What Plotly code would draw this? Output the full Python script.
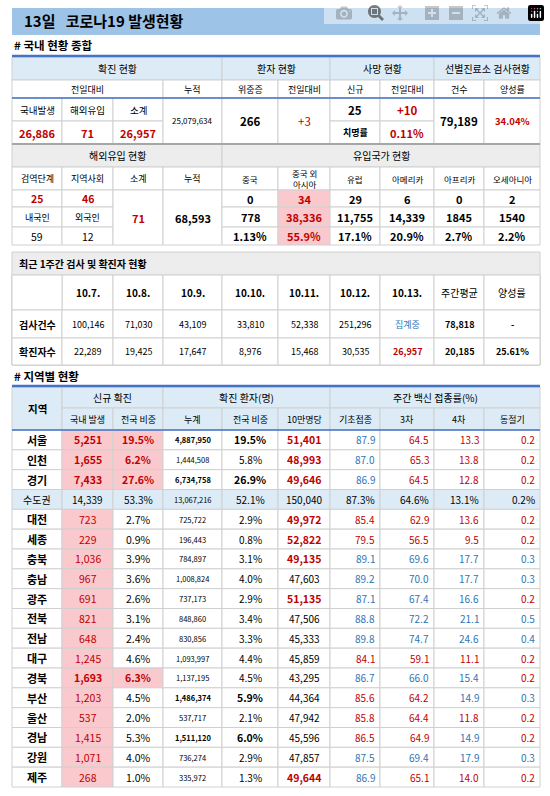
import plotly.graph_objects as go

W, H = 550, 796
FONT = "Noto Sans CJK KR"
RED = "#C00000"; BLUE = "#2E75B6"; PINK = "#F9C9CE"; LB = "#DDEBF7"; GR = "#EDEDED"

# ---------- data ----------
t1_top = ["확진 현황", "환자 현황", "사망 현황", "선별진료소 검사현황"]
t1_sub = ["전일대비", "누적", "위중증", "전일대비", "신규", "전일대비", "건수", "양성률"]
t1_labels = ["국내발생", "해외유입", "소계"]
t1_new = ["26,886", "71", "26,957"]
t1_cum = "25,079,634"
t1_severe = ["266", "+3"]
t1_death = ["25", "+10"]
t1_fatal = ["치명률", "0.11%"]
t1_test = ["79,189", "34.04%"]

t2_top = ["해외유입 현황", "유입국가 현황"]
t2_sub = ["검역단계", "지역사회", "소계", "누적", "중국", "중국 외<br>아시아", "유럽", "아메리카", "아프리카", "오세아니아"]
t2_stage = ["25", "46"]
t2_nat_lbl = ["내국인", "외국인"]
t2_nat = ["59", "12"]
t2_sub_total = "71"
t2_cum = "68,593"
t2_new = ["0", "34", "29", "6", "0", "2"]
t2_cnt = ["778", "38,336", "11,755", "14,339", "1845", "1540"]
t2_pct = ["1.13%", "55.9%", "17.1%", "20.9%", "2.7%", "2.2%"]

t3_title = "최근 1주간 검사 및 확진자 현황"
t3_dates = ["10.7.", "10.8.", "10.9.", "10.10.", "10.11.", "10.12.", "10.13.", "주간평균", "양성률"]
t3_tests = ["100,146", "71,030", "43,109", "33,810", "52,338", "251,296", "집계중", "78,818", "-"]
t3_cases = ["22,289", "19,425", "17,647", "8,976", "15,468", "30,535", "26,957", "20,185", "25.61%"]

regions = ["서울", "인천", "경기", "수도권", "대전", "세종", "충북", "충남", "광주", "전북", "전남",
           "대구", "경북", "부산", "울산", "경남", "강원", "제주"]
new_local = ["5,251", "1,655", "7,433", "14,339", "723", "229", "1,036", "967", "691", "821", "648",
             "1,245", "1,693", "1,203", "537", "1,415", "1,071", "268"]
new_share = ["19.5%", "6.2%", "27.6%", "53.3%", "2.7%", "0.9%", "3.9%", "3.6%", "2.6%", "3.1%", "2.4%",
             "4.6%", "6.3%", "4.5%", "2.0%", "5.3%", "4.0%", "1.0%"]
cum_total = ["4,887,950", "1,444,508", "6,734,758", "13,067,216", "725,722", "196,443", "784,897", "1,008,824",
             "737,173", "848,860", "830,856", "1,093,997", "1,137,195", "1,486,374", "537,717", "1,511,120",
             "736,274", "335,972"]
cum_share = ["19.5%", "5.8%", "26.9%", "52.1%", "2.9%", "0.8%", "3.1%", "4.0%", "2.9%", "3.4%", "3.3%",
             "4.4%", "4.5%", "5.9%", "2.1%", "6.0%", "2.9%", "1.3%"]
per100k = ["51,401", "48,993", "49,646", "150,040", "49,972", "52,822", "49,135", "47,603", "51,135", "47,506",
           "45,333", "45,859", "43,295", "44,364", "47,942", "45,596", "47,857", "49,644"]
vac_base = [87.9, 87.0, 86.9, 87.3, 85.4, 79.5, 89.1, 89.2, 87.1, 88.8, 89.8, 84.1, 86.7, 85.6, 85.8, 86.5, 87.5, 86.9]
vac_3 = [64.5, 65.3, 64.5, 64.6, 62.9, 56.5, 69.6, 70.0, 67.4, 72.2, 74.7, 59.1, 66.0, 64.2, 64.4, 64.9, 69.4, 65.1]
vac_4 = [13.3, 13.8, 12.8, 13.1, 13.6, 9.5, 17.7, 17.7, 16.6, 21.1, 24.6, 11.1, 15.4, 14.9, 11.8, 14.9, 17.9, 14.0]
vac_w = [0.2, 0.2, 0.2, 0.2, 0.2, 0.2, 0.3, 0.3, 0.2, 0.5, 0.4, 0.2, 0.2, 0.3, 0.2, 0.2, 0.3, 0.2]

# ---------- helpers ----------
shapes, anns = [], []
def px(x): return x / W
def py(y): return 1 - y / H

def rect(x0, y0, x1, y1, fill="white", line="#D0D0D0", lw=1):
    shapes.append(dict(type="rect", xref="paper", yref="paper", x0=px(x0), x1=px(x1), y0=py(y1), y1=py(y0),
                       fillcolor=fill, line=dict(color=line, width=lw), layer="below"))

def hline(x0, x1, y, color="#4472C4", lw=2.5):
    shapes.append(dict(type="line", xref="paper", yref="paper", x0=px(x0), x1=px(x1), y0=py(y), y1=py(y),
                       line=dict(color=color, width=lw)))

def text(x, y, t, size=10, color="black", bold=False, anchor="center"):
    if bold: t = "<b>" + t + "</b>"
    anns.append(dict(xref="paper", yref="paper", x=px(x), y=py(y), text=t, showarrow=False,
                     xanchor=anchor, yanchor="middle", font=dict(family=FONT, size=size, color=color)))

def cell(x0, y0, x1, y1, t="", fill="white", color="black", bold=False, size=10, align="center"):
    rect(x0, y0, x1, y1, fill)
    if t != "":
        if align == "center": text((x0 + x1) / 2, (y0 + y1) / 2, t, size, color, bold)
        elif align == "right": text(x1 - 3, (y0 + y1) / 2, t, size, color, bold, "right")
        else: text(x0 + 5, (y0 + y1) / 2, t, size, color, bold, "left")

X = [12, 62, 113, 163, 222, 278, 330, 380, 434, 484, 540]

# title
shapes.append(dict(type="rect", xref="paper", yref="paper", x0=px(12), x1=px(540), y0=py(35), y1=py(8),
                   fillcolor="#9DC3E6", line=dict(width=0), layer="below"))
text(22, 21, "13일   코로나19 발생현황", 15, "black", True, "left")
text(12, 45, "# 국내 현황 종합", 11.5, "black", True, "left")

# ---- table 1 ----
for (a, b), t in zip([(0, 4), (4, 6), (6, 8), (8, 10)], t1_top):
    cell(X[a], 57, X[b], 80, t, LB, size=10)
spans = [(0, 3), (3, 4), (4, 5), (5, 6), (6, 7), (7, 8), (8, 9), (9, 10)]
for (a, b), t in zip(spans, t1_sub):
    cell(X[a], 80, X[b], 98, t, size=9)
for i in range(3):
    cell(X[i], 98, X[i + 1], 121, t1_labels[i], size=9.5)
    cell(X[i], 121, X[i + 1], 144, t1_new[i], color=RED, bold=True, size=11)
cell(X[3], 98, X[4], 144, t1_cum, size=8)
cell(X[4], 98, X[5], 144, t1_severe[0], bold=True, size=11.5)
cell(X[5], 98, X[6], 144, t1_severe[1], color=RED, size=11.5)
cell(X[6], 98, X[7], 121, t1_death[0], bold=True, size=11.5)
cell(X[7], 98, X[8], 121, t1_death[1], color=RED, bold=True, size=11.5)
cell(X[6], 121, X[7], 144, t1_fatal[0], bold=True, size=9)
cell(X[7], 121, X[8], 144, t1_fatal[1], color=RED, bold=True, size=11)
cell(X[8], 98, X[9], 144, t1_test[0], bold=True, size=11.5)
cell(X[9], 98, X[10], 144, t1_test[1], color=RED, bold=True, size=9.5)
hline(12, 540, 56); hline(12, 540, 98, lw=1.5)

# ---- table 2 ----
cell(X[0], 144, X[4], 167, t2_top[0], GR)
cell(X[4], 144, X[10], 167, t2_top[1], GR)
for i, t in enumerate(t2_sub):
    cell(X[i], 167, X[i + 1], 190, t, size=8.5 if i >= 4 else 9)
cell(X[0], 190, X[1], 207, t2_stage[0], color=RED, bold=True, size=10.5)
cell(X[1], 190, X[2], 207, t2_stage[1], color=RED, bold=True, size=10.5)
cell(X[0], 207, X[1], 227, t2_nat_lbl[0], size=9)
cell(X[1], 207, X[2], 227, t2_nat_lbl[1], size=9)
cell(X[0], 227, X[1], 245, t2_nat[0], size=10.5)
cell(X[1], 227, X[2], 245, t2_nat[1], size=10.5)
cell(X[2], 190, X[3], 245, t2_sub_total, color=RED, bold=True, size=11)
cell(X[3], 190, X[4], 245, t2_cum, bold=True, size=11)
for j in range(6):
    f = PINK if j == 1 else "white"
    c = RED if j == 1 else "black"
    cell(X[4 + j], 190, X[5 + j], 207, t2_new[j], f, c, True, 11)
    cell(X[4 + j], 207, X[5 + j], 227, t2_cnt[j], f, c, True, 11)
    cell(X[4 + j], 227, X[5 + j], 245, t2_pct[j], f, c, True, 11)
hline(12, 540, 144, "#A6A6A6", 2)

# ---- table 3 ----
rect(12, 252, 540, 365, GR)
text(17, 263, t3_title, 10, "black", True, "left")
rect(12, 275, 540, 365, "white")
for i, t in enumerate(t3_dates):
    cell(X[i + 1], 275, X[i + 2], 310, t, bold=(i < 7), size=10)
cell(X[0], 275, X[1], 310, "")
cell(X[0], 310, X[1], 338, "검사건수", bold=True, size=10)
cell(X[0], 338, X[1], 365, "확진자수", bold=True, size=10)
for i in range(9):
    c1 = BLUE if i == 6 else "black"
    c2 = RED if i == 6 else "black"
    cell(X[i + 1], 310, X[i + 2], 338, t3_tests[i], color=c1, bold=(i >= 7), size=9)
    cell(X[i + 1], 338, X[i + 2], 365, t3_cases[i], color=c2, bold=(i >= 6), size=9)
text(12, 376, "# 지역별 현황", 11.5, "black", True, "left")

# ---- table 4 ----
cell(X[0], 387, X[1], 430, "지역", LB, bold=True, size=10.5)
cell(X[1], 387, X[3], 408, "신규 확진", LB, size=10)
cell(X[3], 387, X[6], 408, "확진 환자(명)", LB, size=10)
cell(X[6], 387, X[10], 408, "주간 백신 접종률(%)", LB, size=10)
for i, t in enumerate(["국내 발생", "전국 비중", "누계", "전국 비중", "10만명당", "기초접종", "3차", "4차", "동절기"]):
    cell(X[i + 1], 408, X[i + 2], 430, t, LB, size=9)
hline(12, 540, 386); hline(12, 540, 430, lw=1.5)

y = 430.0
rh = (787 - 430) / len(regions)
for k, r in enumerate(regions):
    y0, y1 = y + k * rh, y + (k + 1) * rh
    metro = (r == "수도권")
    base = LB if metro else "white"
    top3 = k < 3
    big = top3 or r == "경북"
    cell(X[0], y0, X[1], y1, r, base, bold=not metro, size=11 if not metro else 10)
    if metro:
        vals = [new_local[k], new_share[k], cum_total[k], cum_share[k], per100k[k]]
        sizes = [10, 10, 7.5, 10, 10]
        for i in range(5):
            cell(X[i + 1], y0, X[i + 2], y1, vals[i], base, size=sizes[i])
        for i, v in enumerate([vac_base[k], vac_3[k], vac_4[k], vac_w[k]]):
            cell(X[6 + i], y0, X[7 + i], y1, f"{v:.1f}%", base, size=10, align="right")
        continue
    cell(X[1], y0, X[2], y1, new_local[k], PINK, RED, big, 10.5)
    cell(X[2], y0, X[3], y1, new_share[k], PINK if big else "white", RED if big else "black", big, 10.5)
    bcum = r in ("서울", "경기", "부산", "경남")
    cell(X[3], y0, X[4], y1, cum_total[k], bold=bcum, size=7.5)
    cell(X[4], y0, X[5], y1, cum_share[k], bold=bcum, size=10.5 if bcum else 10)
    hi = int(per100k[k].replace(",", "")) >= 48000
    cell(X[5], y0, X[6], y1, per100k[k], color=RED if hi else "black", bold=hi, size=10.5 if hi else 10)
    cell(X[6], y0, X[7], y1, f"{vac_base[k]:.1f}", color=BLUE if vac_base[k] >= 86.7 else RED, size=10, align="right")
    cell(X[7], y0, X[8], y1, f"{vac_3[k]:.1f}", color=BLUE if vac_3[k] >= 65.5 else RED, size=10, align="right")
    cell(X[8], y0, X[9], y1, f"{vac_4[k]:.1f}", color=BLUE if vac_4[k] >= 14.5 else RED, size=10, align="right")
    cell(X[9], y0, X[10], y1, f"{vac_w[k]:.1f}", color=BLUE if vac_w[k] >= 0.3 else RED, size=10, align="right")

fig = go.Figure()
fig.update_layout(width=W, height=H, margin=dict(l=0, r=0, t=0, b=0), paper_bgcolor="white",
                  plot_bgcolor="white", shapes=shapes, annotations=anns,
                  xaxis=dict(visible=False, range=[0, 1]), yaxis=dict(visible=False, range=[0, 1]),
                  font=dict(family=FONT))
fig.write_html("out.html",
               post_script="document.body.style.margin='0';document.body.style.overflow='hidden';")
